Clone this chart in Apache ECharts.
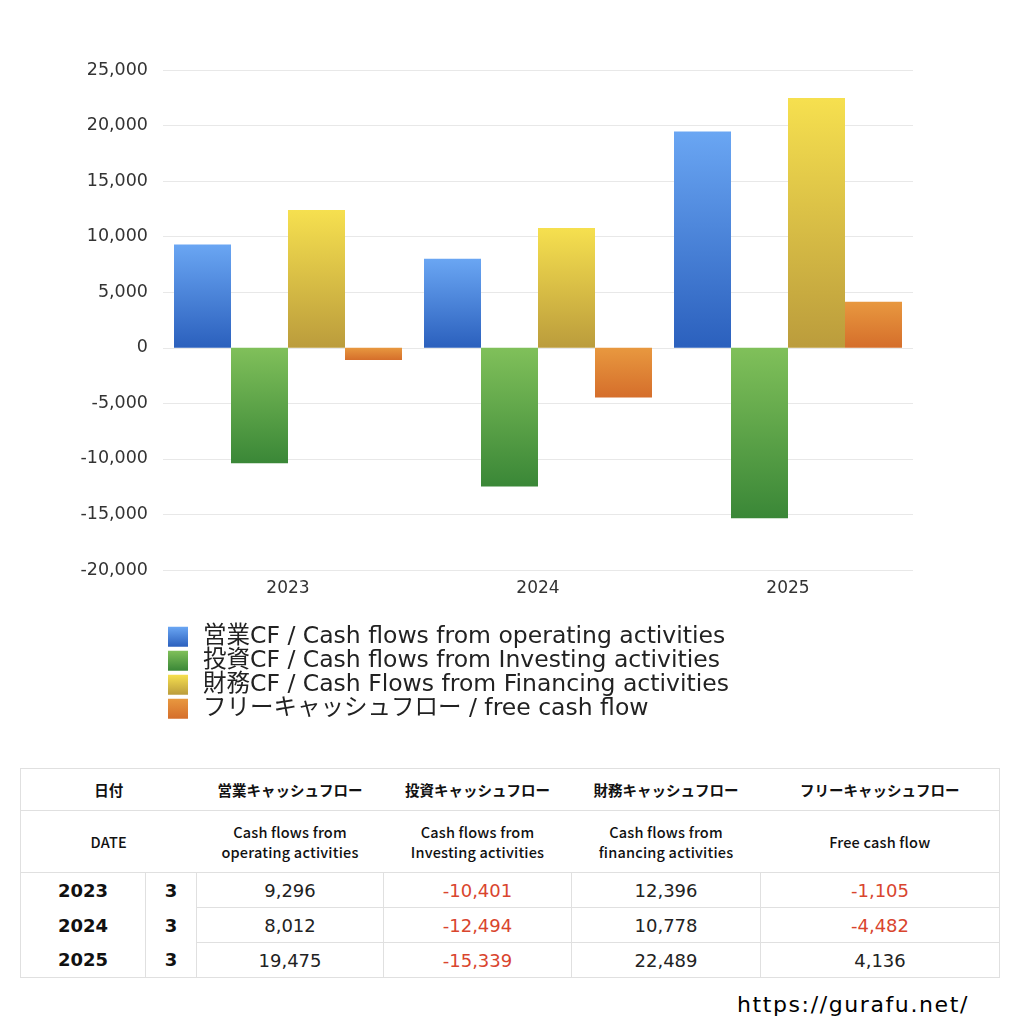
<!DOCTYPE html>
<html><head><meta charset="utf-8">
<script src="https://cdn.jsdelivr.net/npm/echarts@6/dist/echarts.min.js"></script>
<style>
html,body{margin:0;padding:0;background:#fff;width:1024px;height:1024px;overflow:hidden;font-family:"DejaVu Sans","Noto Sans CJK JP",sans-serif;}
#chart{position:absolute;left:0;top:0;width:1024px;height:740px;}
#tbl{position:absolute;left:20px;top:768px;width:980px;border-collapse:collapse;color:#111;}
#tbl td{border:1px solid #e0e0e0;text-align:center;padding:0;}
#tbl .h1 td{height:41px;font-size:14.5px;font-weight:700;font-family:"Noto Sans CJK JP",sans-serif;}
#tbl .h2 td{height:61px;font-size:14.5px;font-weight:500;line-height:20px;font-family:"Noto Sans CJK JP",sans-serif;letter-spacing:0.2px;}
#tbl .d td{height:34px;font-size:18px;color:#222;}
#tbl td.yr{font-size:18px;font-weight:700;color:#111;}
#tbl td.neg{color:#d9452e;}
#url{position:absolute;left:737px;top:992px;font-size:22px;color:#000;letter-spacing:1.6px;}
</style></head>
<body>
<div id="chart"></div>
<table id="tbl"></table>
<div id="url">https://gurafu.net/</div>
<script>
const years = ['2023', '2024', '2025'];
const months = ['3', '3', '3'];
const operatingCF = [9296, 8012, 19475];
const investingCF = [-10401, -12494, -15339];
const financingCF = [12396, 10778, 22489];
const freeCF = [-1105, -4482, 4136];
const seriesNames = [
  '営業CF / Cash flows from operating activities',
  '投資CF / Cash flows from Investing activities',
  '財務CF / Cash Flows from Financing activities',
  'フリーキャッシュフロー / free cash flow'
];
const tableHead1 = ['日付', '営業キャッシュフロー', '投資キャッシュフロー', '財務キャッシュフロー', 'フリーキャッシュフロー'];
const tableHead2 = ['DATE', 'Cash flows from<br>operating activities', 'Cash flows from<br>Investing activities', 'Cash flows from<br>financing activities', 'Free cash flow'];

function grad(top, bottom) {
  return new echarts.graphic.LinearGradient(0, 0, 0, 1, [
    {offset: 0, color: top}, {offset: 1, color: bottom}
  ]);
}
const gradients = [
  grad('#6aa6f3', '#2b60bd'),
  grad('#80c05a', '#3a8737'),
  grad('#f6e04f', '#bb9c3c'),
  grad('#e8983f', '#d56e2b')
];
const seriesData = [operatingCF, investingCF, financingCF, freeCF];
const FONT = '"DejaVu Sans","Noto Sans CJK JP",sans-serif';

const chart = echarts.init(document.getElementById('chart'));
chart.setOption({
  animation: false,
  textStyle: {fontFamily: FONT},
  grid: {left: 163, right: 111, top: 70, height: 500},
  legend: {
    orient: 'vertical', left: 163, top: 620, itemWidth: 20, itemHeight: 20, itemGap: 0.5,
    icon: 'rect',
    textStyle: {fontSize: 23.5, color: '#222', padding: [0, 0, 0, 10], fontFamily: FONT},
    data: seriesNames
  },
  xAxis: {
    type: 'category', data: years,
    axisLine: {show: false}, axisTick: {show: false},
    axisLabel: {fontSize: 17, color: '#333', margin: 10, fontFamily: FONT}
  },
  yAxis: {
    type: 'value', min: -20000, max: 25000, interval: 5000,
    axisLine: {show: false}, axisTick: {show: false},
    splitLine: {lineStyle: {color: '#e8e8e8'}},
    axisLabel: {fontSize: 17.5, color: '#333', margin: 15, fontFamily: FONT,
      formatter: v => v.toLocaleString('en-US')}
  },
  series: seriesData.map((d, i) => ({
    name: seriesNames[i], type: 'bar', data: d,
    barWidth: 57, barGap: '0%',
    itemStyle: {color: gradients[i]}
  }))
});

// table
const fmt = v => v.toLocaleString('en-US');
let html = '<tr class="h1"><td colspan="2">' + tableHead1[0] + '</td>';
for (let i = 1; i < tableHead1.length; i++) html += '<td>' + tableHead1[i] + '</td>';
html += '</tr><tr class="h2"><td colspan="2">' + tableHead2[0] + '</td>';
for (let i = 1; i < tableHead2.length; i++) html += '<td>' + tableHead2[i] + '</td>';
html += '</tr>';
for (let r = 0; r < years.length; r++) {
  const vb = (r < years.length - 1 ? 'border-bottom:none;' : '') + (r > 0 ? 'border-top:none;' : '');
  html += '<tr class="d"><td class="yr" style="width:124px;' + vb + '">' + years[r] + '</td>';
  html += '<td class="yr" style="width:50px;' + vb + '">' + months[r] + '</td>';
  const vals = [operatingCF[r], investingCF[r], financingCF[r], freeCF[r]];
  const widths = [186, 187, 188, 238];
  vals.forEach((v, k) => {
    html += '<td class="' + (v < 0 ? 'neg' : '') + '" style="width:' + widths[k] + 'px">' + fmt(v) + '</td>';
  });
  html += '</tr>';
}
document.getElementById('tbl').innerHTML = html;
document.querySelectorAll('#tbl .h1 td, #tbl .h2 td').forEach(td => {
  td.style.borderLeft = 'none'; td.style.borderRight = 'none';
});
document.querySelectorAll('#tbl .h1 td:first-child, #tbl .h2 td:first-child').forEach(td => td.style.borderLeft = '1px solid #e0e0e0');
document.querySelectorAll('#tbl .h1 td:last-child, #tbl .h2 td:last-child').forEach(td => td.style.borderRight = '1px solid #e0e0e0');
</script>
</body></html>
